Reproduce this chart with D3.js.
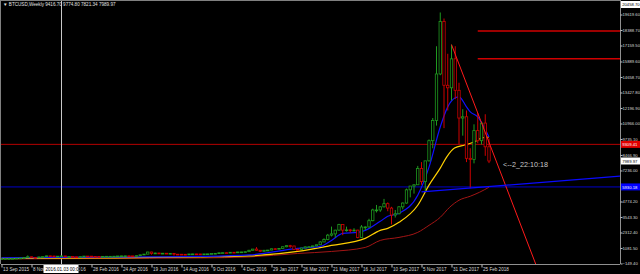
<!DOCTYPE html>
<html>
<head>
<meta charset="utf-8">
<script src="https://cdn.jsdelivr.net/npm/d3@7"></script>
<style>
  html, body { margin: 0; padding: 0; background: #000; }
  svg { display: block; }
</style>
</head>
<body>
<svg></svg>
<script>
const wSvg = 640, hSvg = 274;

// weekly candles, week 0 = 13 Sep 2015
const opens = [230,231,235,238,246,268,286,328,384,333,323,371,394,455,441,423,431,450,387,400,379,375,394,438,432,413,411,410,416,420,
  420,428,447,455,460,454,443,470,540,595,760,650,680,650,665,655,655,590,585,580,575,605,610,607,600,613,617,640,655,700,
  705,700,740,735,765,770,790,900,995,900,820,900,915,1020,1000,1050,1180,1270,1240,970,960,1080,1170,1180,1250,1340,1560,1750,2100,2200,
  2500,2950,2500,2520,2500,2500,1920,2750,2750,3250,4100,4100,4350,4600,4250,3700,3800,4350,4650,5700,6000,6100,7400,6350,8000,9600,11200,14900,19060,14000,
  13800,16100,13600,11400,11500,8200,8100,10400,9600,11000,9116.70];
const highs = [236,238,241,248,272,290,334,495,392,340,380,400,470,465,460,437,460,455,415,410,390,400,445,440,436,420,420,418,425,424,
  430,450,465,465,462,460,478,545,610,780,780,710,700,680,680,680,660,600,590,585,615,630,615,610,615,620,645,660,720,740,
  740,760,750,780,775,800,935,1000,1150,920,930,930,1030,1080,1060,1200,1290,1330,1260,1060,1100,1200,1220,1260,1350,1620,1850,2200,2780,2530,
  3000,2980,2780,2600,2650,2530,2900,2800,3400,4200,4500,4400,4980,4700,4350,4100,4400,4700,5800,6000,6150,7600,7900,8000,9700,11400,17100,19780,19300,16500,
  17230,17100,14200,12100,12000,9000,10900,11800,11100,11700,9774.80];
const lows = [225,226,233,236,244,264,280,325,300,312,314,350,390,430,415,412,425,360,364,370,365,370,390,405,410,405,400,408,410,415,
  418,425,440,440,445,440,435,465,535,590,550,610,600,645,650,640,480,575,565,570,570,600,600,590,595,605,615,630,650,690,
  690,695,720,730,755,765,790,880,880,760,810,880,910,940,980,1040,1140,1100,940,890,940,1060,1160,1170,1220,1330,1550,1700,2000,1900,
  2450,2100,2380,2300,2400,1850,1900,2500,2700,3200,3900,3950,4300,4000,2950,3500,3750,4150,4600,5100,5400,6100,6100,5550,7950,9000,10800,14800,10600,12000,
  12800,12900,9300,10000,7900,5830,7800,9400,9300,8400,7821.34];
const closes = [231,235,238,246,268,286,328,384,333,323,371,394,455,441,423,431,450,387,400,379,375,394,438,432,413,411,410,416,420,420,
  428,447,455,460,454,443,470,540,595,760,650,680,650,665,655,655,590,585,580,575,605,610,607,600,613,617,640,655,700,705,
  700,740,735,765,770,790,900,995,900,820,900,915,1020,1000,1050,1180,1270,1240,970,960,1080,1170,1180,1250,1340,1560,1750,2100,2200,2500,
  2950,2500,2520,2500,2500,1920,2750,2750,3250,4100,4100,4350,4600,4250,3700,3800,4350,4650,5700,6000,6100,7400,6350,8000,9600,11200,14900,19060,14000,13800,
  16100,13600,11400,11500,8200,8100,10400,9600,11000,9116.70,7989.97];

// moving averages: [week, price]
const maBlue = [[0,290],[15,330],[39,370],[53,409],[66,530],[79,1046],[85,1206],[88,1684],[91,2242],[95,2322],[97,2481],
  [101,3199],[103,3598],[106,3837],[111,5271],[114,7503],[117,10692],[119,12286],[121,13004],[122,13083],[124,12286],
  [125,11888],[127,11489],[128.5,10772],[130,9895]];
const maYellow = [[0,250],[26,290],[53,370],[66,450],[79,807],[88,1286],[97,1844],[101,2481],[103,2641],[106,3120],
  [111,4474],[114,6069],[117,7424],[118.7,8301],[120.8,9018],[123.5,9257],[126,9496],[128,9815],[130,9895]];
const maRed = [[0,210],[26,250],[53,290],[66,370],[79,648],[88,807],[97,1126],[101,1684],[106,1923],[111,2322],
  [114,2880],[117,3518],[119.5,4315],[122,4873],[125,5191],[127.5,5510],[130,5909]];

const dateLabels = ["13 Sep 2015","8 Nov 2015","3 Jan 2016","28 Feb 2016","24 Apr 2016","19 Jun 2016","14 Aug 2016",
  "9 Oct 2016","4 Dec 2016","29 Jan 2017","26 Mar 2017","21 May 2017","16 Jul 2017","10 Sep 2017","5 Nov 2017",
  "31 Dec 2017","25 Feb 2018"];
const priceTicks = [19619.60,18388.70,17159.50,15889.60,14658.70,13427.80,12196.90,10966.00,9735.10,8466.90,
  7236.00,4774.20,3543.30,2312.40,1081.50,-149.40];

const hLineRed = 9309.41, hLineBlue = 5930.18, lastPrice = 7989.97, topPrice = 20458.70;
const shortLines = [18300, 16110];
const redTrend = [[120, 17230], [142.4, -149.4]];
const blueTrend = [[112, 5530], [165, 6790]];
const crossWeek = 16;

const plot = { left: 1, right: 620, top: 1, bottom: 264 };
const font = "Liberation Sans, Arial, sans-serif";

const x = d3.scaleLinear().domain([0, 160]).range([1.5, 601.5]);
const y = d3.scaleLinear().domain([-149.4, 19619.6]).range([263.5, 14.5]);

const svg = d3.select("svg")
    .attr("width", wSvg)
    .attr("height", hSvg)
    .style("background", "#000")
;

svg.append("defs").append("clipPath").attr("id", "clip")
    .append("rect")
    .attr("x", plot.left).attr("y", plot.top)
    .attr("width", plot.right - plot.left).attr("height", plot.bottom - plot.top)
;

const chartG = svg.append("g").attr("clip-path", "url(#clip)");

// horizontal levels
chartG.append("line")
    .attr("x1", plot.left).attr("x2", plot.right)
    .attr("y1", y(hLineRed)).attr("y2", y(hLineRed))
    .attr("stroke", "#b40000").attr("stroke-width", 1)
;
chartG.append("line")
    .attr("x1", plot.left).attr("x2", plot.right)
    .attr("y1", y(hLineBlue)).attr("y2", y(hLineBlue))
    .attr("stroke", "#0000c8").attr("stroke-width", 1)
;
chartG.selectAll("line.short")
    .data(shortLines)
    .enter()
    .append("line")
    .attr("x1", x(127)).attr("x2", plot.right)
    .attr("y1", d => y(d)).attr("y2", d => y(d))
    .attr("stroke", "#d00000").attr("stroke-width", 1.5)
;

// crosshair vertical
chartG.append("line")
    .attr("x1", x(crossWeek)).attr("x2", x(crossWeek))
    .attr("y1", plot.top).attr("y2", plot.bottom)
    .attr("stroke", "#c8c8c8").attr("stroke-width", 1)
;

// moving averages
const maLine = d3.line().x(d => x(d[0])).y(d => y(d[1])).curve(d3.curveMonotoneX);
[[maRed, "#a31515", 1], [maYellow, "#ffd000", 1.2], [maBlue, "#1010ff", 1.2]].forEach(([pts, col, w]) => {
    chartG.append("path")
        .attr("d", maLine(pts))
        .attr("fill", "none")
        .attr("stroke", col)
        .attr("stroke-width", w)
    ;
});

// candles
const candles = d3.range(opens.length).map(i => ({ i, o: opens[i], h: highs[i], l: lows[i], c: closes[i] }));
const bull = "#1f9a1f", bear = "#d00000";
const cg = chartG.selectAll("g.candle")
    .data(candles)
    .enter()
    .append("g")
;
cg.append("line")
    .attr("x1", d => x(d.i)).attr("x2", d => x(d.i))
    .attr("y1", d => y(d.h)).attr("y2", d => y(d.l))
    .attr("stroke", d => d.c >= d.o ? bull : bear)
    .attr("stroke-width", 1)
;
cg.append("rect")
    .attr("x", d => x(d.i) - 1.2)
    .attr("width", 2.4)
    .attr("y", d => y(Math.max(d.o, d.c)))
    .attr("height", d => Math.max(0.8, Math.abs(y(d.o) - y(d.c))))
    .attr("fill", "#000")
    .attr("stroke", d => d.c >= d.o ? bull : bear)
    .attr("stroke-width", 0.8)
;

// trend lines
function extend(p, xMax) {
    const slope = (p[1][1] - p[0][1]) / (p[1][0] - p[0][0]);
    return [p[0], [xMax, p[0][1] + slope * (xMax - p[0][0])]];
}
const tl = d3.line().x(d => x(d[0])).y(d => y(d[1]));
chartG.append("path")
    .attr("d", tl(extend(redTrend, 150)))
    .attr("stroke", "#ff1a1a").attr("stroke-width", 1).attr("fill", "none")
;
chartG.append("path")
    .attr("d", tl(extend(blueTrend, 170)))
    .attr("stroke", "#0a0aff").attr("stroke-width", 1.3).attr("fill", "none")
;

chartG.append("text")
    .attr("x", 503).attr("y", 167)
    .attr("fill", "#c8c8c8")
    .attr("font-family", font)
    .attr("font-size", 7.2)
    .text("<--2_22:10:18")
;

// frame
svg.append("line").attr("x1", plot.left).attr("x2", plot.right).attr("y1", 0.5).attr("y2", 0.5)
    .attr("stroke", "#808080");
svg.append("line").attr("x1", 0.5).attr("x2", 0.5).attr("y1", 0).attr("y2", plot.bottom)
    .attr("stroke", "#808080");

// right axis
const yAxis = d3.axisRight(y)
    .tickValues(priceTicks)
    .tickFormat(d3.format(".2f"))
    .tickSize(2)
    .tickSizeOuter(0)
;
const yAxisG = svg.append("g")
    .attr("transform", `translate(${plot.right + 0.5},0)`)
    .call(yAxis)
;
yAxisG.select(".domain").attr("stroke", "#909090").attr("d", `M0,0V${plot.bottom}`);
yAxisG.selectAll(".tick line").attr("stroke", "#c0c0c0");
yAxisG.selectAll(".tick text")
    .attr("x", 2)
    .attr("fill", "#d8d8d8")
    .attr("font-family", font)
    .attr("font-size", 4.2)
;

// bottom axis
const xAxis = d3.axisBottom(x)
    .tickValues(dateLabels.map((d, i) => i * 8))
    .tickFormat((d, i) => dateLabels[i])
    .tickSize(3)
    .tickSizeOuter(0)
;
const xAxisG = svg.append("g")
    .attr("transform", `translate(0,${plot.bottom + 0.5})`)
    .call(xAxis)
;
xAxisG.select(".domain").attr("stroke", "#909090").attr("d", `M${plot.left},0H${plot.right}`);
xAxisG.selectAll(".tick line").attr("stroke", "#c0c0c0");
xAxisG.selectAll(".tick text")
    .attr("text-anchor", "start")
    .attr("x", 1)
    .attr("y", 3.5)
    .attr("fill", "#d8d8d8")
    .attr("font-family", font)
    .attr("font-size", 4.6)
;

// price tags on the axis
const tags = [
    { v: topPrice, bg: "#ffffff", fg: "#000" },
    { v: hLineRed, bg: "#e00000", fg: "#fff" },
    { v: lastPrice, bg: "#ffffff", fg: "#000" },
    { v: hLineBlue, bg: "#0000ff", fg: "#fff" }
];
const tagG = svg.selectAll("g.tag")
    .data(tags)
    .enter()
    .append("g")
    .attr("transform", d => `translate(${plot.right + 1},${d.v === topPrice ? 4.5 : y(d.v)})`)
;
tagG.append("rect")
    .attr("x", 0).attr("y", -3.5).attr("width", 20).attr("height", 7)
    .attr("fill", d => d.bg)
;
tagG.append("text")
    .attr("x", 1.2).attr("y", 1.6)
    .attr("fill", d => d.fg)
    .attr("font-family", font)
    .attr("font-size", 4.2)
    .text(d => d3.format(".2f")(d.v))
;

// crosshair date tag
const dateTag = svg.append("g").attr("transform", `translate(${x(crossWeek) - 18},${plot.bottom + 1})`);
dateTag.append("rect").attr("width", 35).attr("height", 8).attr("fill", "#fff");
dateTag.append("text")
    .attr("x", 2).attr("y", 5.8)
    .attr("fill", "#000")
    .attr("font-family", font)
    .attr("font-size", 4.6)
    .text("2016.01.03 00:00")
;

// title
svg.append("text")
    .attr("x", 3).attr("y", 6)
    .attr("fill", "#e0e0e0")
    .attr("font-family", font)
    .attr("font-size", 4.6)
    .text("\u25BC BTCUSD,Weekly  9416.70 9774.80 7821.34 7989.97")
;
</script>
</body>
</html>
